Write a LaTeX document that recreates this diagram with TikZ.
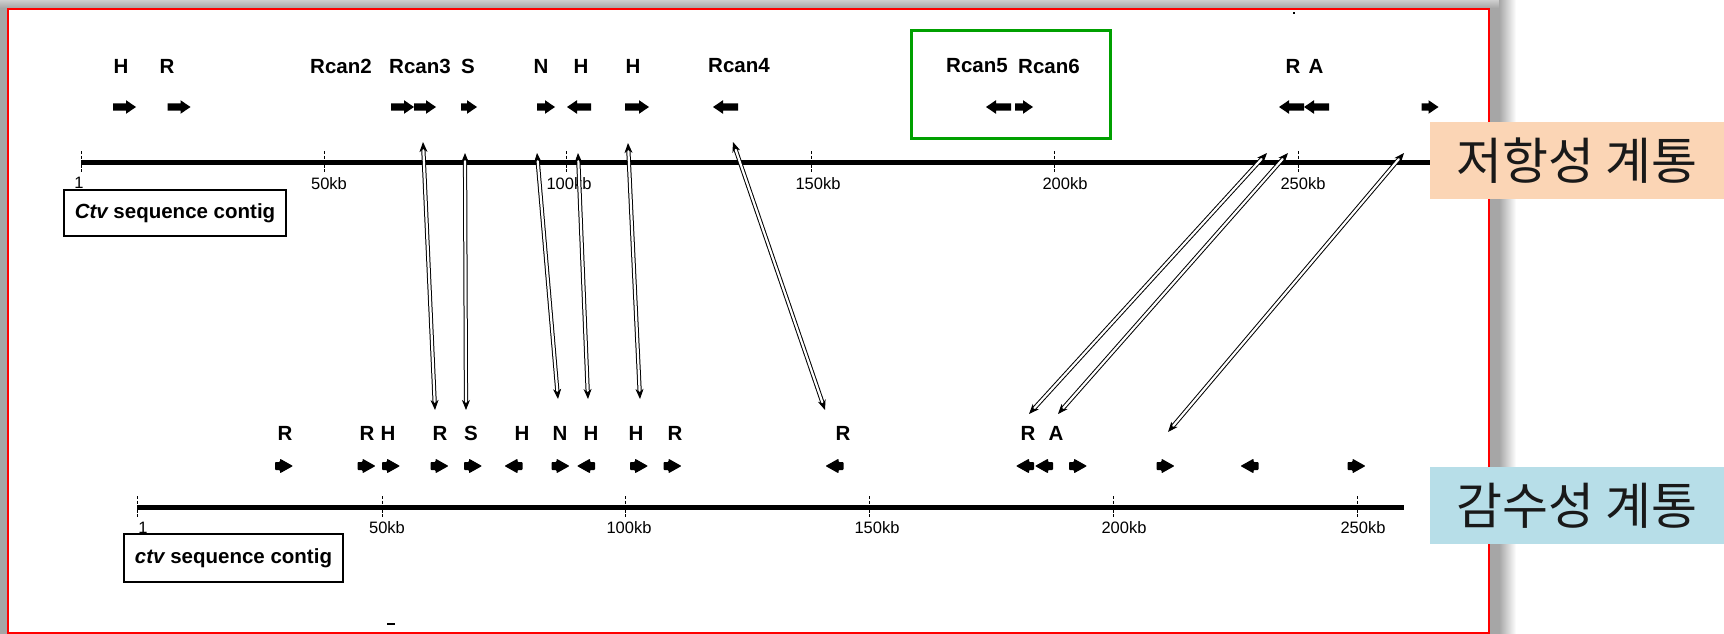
\documentclass[tikz,border=0pt]{standalone}
\usepackage{fontspec}
\setmainfont{Liberation Sans}
\newfontfamily\krfont{Noto Sans CJK KR}
\usetikzlibrary{arrows.meta}
\definecolor{peach}{HTML}{FBD5B5}
\definecolor{paleblue}{HTML}{B7DEE8}
\definecolor{boxgreen}{RGB}{0,160,0}
\definecolor{shadowgray}{HTML}{A6A6A6}
\definecolor{framered}{RGB}{255,0,0}

% gene arrow on the upper contig: centre x, y, direction (1 or -1), length
\newcommand\upperarrow[4]{%
  \fill[shift={(#1,#2)}, xscale=#3]
    ({-#4/2},-3.6) -- ({#4/2-10},-3.6) -- ({#4/2-10},-6.8) -- ({#4/2},0)
    -- ({#4/2-10},6.8) -- ({#4/2-10},3.6) -- ({-#4/2},3.6) -- cycle;}
% gene arrow on the lower contig: centre x, y, direction
\newcommand\lowerarrow[3]{%
  \fill[shift={(#1,#2)}, xscale=#3, rounded corners=0.8pt]
    (-9,-4) -- (-4,-4) -- (-4,-7.3) -- (9,0) -- (-4,7.3)
    -- (-4,4) -- (-9,4) -- cycle;}

\begin{document}
\begin{tikzpicture}[x=1pt,y=-1pt,
  glabel/.style={font=\fontsize{20.5}{23}\selectfont\bfseries, inner sep=0pt},
  kblabel/.style={font=\fontsize{16.5}{19}\selectfont, inner sep=0pt},
  track/.style={line width=5pt},
  tickmark/.style={line width=1pt, dash pattern=on 3pt off 1.5pt},
  contigbox/.style={draw, line width=1.3pt, inner sep=0pt,
    font=\fontsize{20.5}{23}\selectfont\bfseries},
  conn/.style={line width=1pt, double=white, double distance=2.2pt,
    {Stealth[length=10pt,width=8pt,inset=3pt]}-{Stealth[length=10pt,width=8pt,inset=3pt]}},
  strainbox/.style={inner sep=0pt, anchor=north west, minimum width=294pt,
    minimum height=77pt, font=\krfont\fontsize{50}{58}\selectfont, text=black!90}
]
\useasboundingbox (0,0) rectangle (1724,634);

% drop shadow and frame
\fill[shadowgray] (0,0) rectangle (1499,634);
\shade[top color=shadowgray!55, bottom color=shadowgray] (0,0) rectangle (1499,8);
\shade[left color=shadowgray, right color=white] (1499,0) rectangle (1516,634);
\draw[framered, line width=2.5pt, fill=white] (8,9) rectangle (1489,633);

% ---------------- upper (resistant) contig ----------------
\draw[track] (81,162) -- (1430,162);
\foreach \x in {81,324,566,811,1054,1298}
  {\draw[tickmark] (\x,151) -- (\x,173);}
\node[kblabel] (u1)   at (79,183)   {1};
\node[kblabel] (u50)  at (329,184)  {50kb};
\node[kblabel] (u100) at (569,184)  {100kb};
\node[kblabel] (u150) at (818,184)  {150kb};
\node[kblabel] (u200) at (1065,184) {200kb};
\node[kblabel] (u250) at (1303,184) {250kb};

\node[contigbox, minimum width=222pt, minimum height=46pt] (ubox) at (175,213)
  {\itshape Ctv\upshape{} sequence contig};

\node[glabel] (tH1)  at (121,66)  {H};
\node[glabel] (tR1)  at (167,66)  {R};
\node[glabel] (tRc2) at (341,66)  {Rcan2};
\node[glabel] (tRc3) at (420,66)  {Rcan3};
\node[glabel] (tS)   at (468,66)  {S};
\node[glabel] (tN)   at (541,66)  {N};
\node[glabel] (tH2)  at (581,66)  {H};
\node[glabel] (tH3)  at (633,66)  {H};
\node[glabel] (tRc4) at (739,66)  {Rcan4};
\node[glabel] (tRc5) at (977,66)  {Rcan5};
\node[glabel] (tRc6) at (1049,66) {Rcan6};
\node[glabel] (tR2)  at (1293,66) {R};
\node[glabel] (tA)   at (1316,66) {A};

\upperarrow{124.5}{107}{1}{23}
\upperarrow{179}{107}{1}{23}
\upperarrow{402.5}{107}{1}{23}
\upperarrow{425}{107}{1}{22}
\upperarrow{469}{107}{1}{16}
\upperarrow{546}{107}{1}{18}
\upperarrow{579}{107}{-1}{24}
\upperarrow{637}{107}{1}{24}
\upperarrow{725.5}{107}{-1}{25}
\upperarrow{998.5}{107}{-1}{25}
\upperarrow{1024}{107}{1}{18}
\upperarrow{1291.5}{107}{-1}{25}
\upperarrow{1316.5}{107}{-1}{25}
\upperarrow{1430}{107}{1}{17}

% Rcan5/Rcan6 highlight
\draw[boxgreen, line width=3pt] (911,31) rectangle (1110,138);

% ---------------- lower (susceptible) contig ----------------
\draw[track] (137,507) -- (1404,507);
\foreach \x in {137,382,625,869,1113,1357}
  {\draw[tickmark] (\x,496) -- (\x,518);}
\node[kblabel] (l1)   at (143,528)  {1};
\node[kblabel] (l50)  at (387,528)  {50kb};
\node[kblabel] (l100) at (629,528)  {100kb};
\node[kblabel] (l150) at (877,528)  {150kb};
\node[kblabel] (l200) at (1124,528) {200kb};
\node[kblabel] (l250) at (1363,528) {250kb};

\node[contigbox, minimum width=219pt, minimum height=48pt] (lbox) at (233.5,558)
  {\itshape ctv\upshape{} sequence contig};

\node[glabel] (bR1) at (285,433.5)  {R};
\node[glabel] (bR2) at (367,433.5)  {R};
\node[glabel] (bH1) at (388,433.5)  {H};
\node[glabel] (bR3) at (440,433.5)  {R};
\node[glabel] (bS)  at (471,433.5)  {S};
\node[glabel] (bH2) at (522,433.5)  {H};
\node[glabel] (bN)  at (560,433.5)  {N};
\node[glabel] (bH3) at (591,433.5)  {H};
\node[glabel] (bH4) at (636,433.5)  {H};
\node[glabel] (bR4) at (675,433.5)  {R};
\node[glabel] (bR5) at (843,433.5)  {R};
\node[glabel] (bR6) at (1028,433.5) {R};
\node[glabel] (bA)  at (1056,433.5) {A};

\foreach \x/\d in {284/1,366.5/1,391/1,439.5/1,473/1,513.5/-1,560.5/1,586/-1,
                   639/1,672.5/1,834.5/-1,1025/-1,1044/-1,1078/1,1165.5/1,
                   1249.5/-1,1356.5/1}
  {\lowerarrow{\x}{466}{\d}}

% ---------------- correspondences between the contigs ----------------
\coordinate (t1) at (423,142);  \coordinate (b1) at (435,410);
\coordinate (t2) at (465,153);  \coordinate (b2) at (466,410);
\coordinate (t3) at (537,153);  \coordinate (b3) at (558,399);
\coordinate (t4) at (578,153);  \coordinate (b4) at (588,399);
\coordinate (t5) at (628,143);  \coordinate (b5) at (640,399);
\coordinate (t6) at (733,142);  \coordinate (b6) at (825,410);
\coordinate (t7) at (1267,153); \coordinate (b7) at (1029,414);
\coordinate (t8) at (1288,153); \coordinate (b8) at (1058,414);
\coordinate (t9) at (1404,153); \coordinate (b9) at (1168,432);
\foreach \i in {1,...,9}
  {\draw[conn] (t\i) -- (b\i);}

% specks
\fill (1293,12) rectangle (1295,14);
\fill (387,623) rectangle (395,625);

% strain labels
\node[strainbox, fill=peach]    (resist)  at (1430,122) {저항성 계통};
\node[strainbox, fill=paleblue] (suscept) at (1430,467) {감수성 계통};
\end{tikzpicture}
\end{document}
